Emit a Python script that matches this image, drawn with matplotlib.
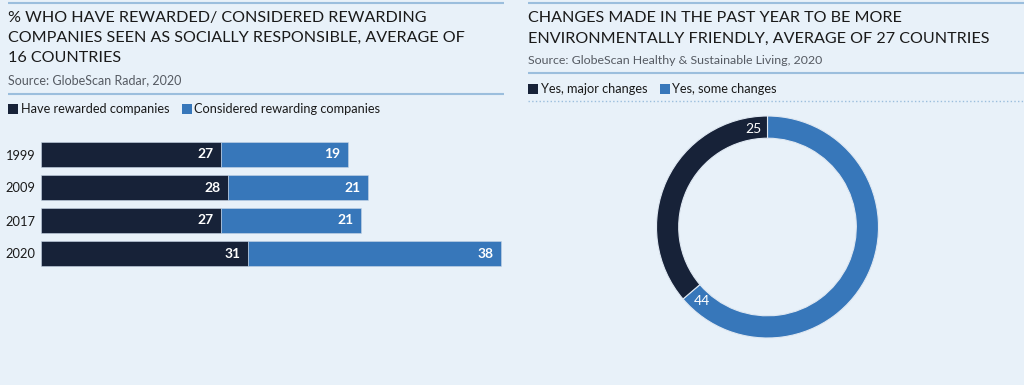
import matplotlib.pyplot as plt
import numpy as np

# data
years = ["1999", "2009", "2017", "2020"]
rewarded = [27, 28, 27, 31]
considered = [19, 21, 21, 38]
bar_series = ["Have rewarded companies", "Considered rewarding companies"]

donut_labels = ["Yes, some changes", "Yes, major changes"]
donut_values = [44, 25]

BG = "#e8f1f9"
DARK = "#172238"
BLUE = "#3777ba"
RULE = "#9bbedd"
GREY = "#555a62"
FONT = "Lato"

W, H = 1024, 385
fig = plt.figure(figsize=(W / 100, H / 100), dpi=100, facecolor=BG)
plt.rcParams["font.family"] = [FONT, "DejaVu Sans"]

# overlay in pixel coords for text and rules
ov = fig.add_axes([0, 0, 1, 1])
ov.set_xlim(0, W)
ov.set_ylim(H, 0)
ov.axis("off")


def rule(x0, x1, y, style="-"):
    ov.plot([x0, x1], [y, y], color=RULE, lw=1.5 if style == "-" else 1.0,
            ls=style, solid_capstyle="butt")


rule(8, 504, 3)
rule(528, 1024, 3)
rule(8, 504, 94)
rule(528, 1024, 73)
rule(528, 1024, 101, ":")

title_kw = dict(fontsize=11.6, color="#1a1a1a", va="center", ha="left")
for i, line in enumerate(["% WHO HAVE REWARDED/ CONSIDERED REWARDING",
                          "COMPANIES SEEN AS SOCIALLY RESPONSIBLE, AVERAGE OF",
                          "16 COUNTRIES"]):
    ov.text(8, 18 + i * 20, line, **title_kw)
ov.text(8, 80, "Source: GlobeScan Radar, 2020", fontsize=9, color=GREY,
        va="center")

for i, line in enumerate(["CHANGES MADE IN THE PAST YEAR TO BE MORE",
                          "ENVIRONMENTALLY FRIENDLY, AVERAGE OF 27 COUNTRIES"]):
    ov.text(528, 18 + i * 21, line, **title_kw)
ov.text(528, 60, "Source: GlobeScan Healthy & Sustainable Living, 2020",
        fontsize=8.9, color=GREY, va="center")


def legend(x, y, items):
    for label, color in items:
        ov.add_patch(plt.Rectangle((x, y - 5), 10, 10, color=color, lw=0))
        t = ov.text(x + 13, y, label, fontsize=9.2, color="#1a1a1a",
                    va="center")
        fig.canvas.draw()
        bb = t.get_window_extent()
        x = bb.x1 + 12


legend(8, 109, zip(bar_series, [DARK, BLUE]))
legend(528, 89, zip([donut_labels[1], donut_labels[0]], [DARK, BLUE]))

# bar chart
px_per_unit = 6.67
xmax = 70
ax = fig.add_axes([41 / W, 1 - 270 / H, xmax * px_per_unit / W, 132 / H])
ax.set_facecolor("none")
y = np.arange(len(years))
ax.barh(y, rewarded, height=0.73, color=DARK, edgecolor="#c8d6e6", lw=0.4)
ax.barh(y, considered, left=rewarded, height=0.73, color=BLUE,
        edgecolor="#c8d6e6", lw=0.4)
for yi, a, b in zip(y, rewarded, considered):
    ax.text(a - 1.1, yi, str(a), ha="right", va="center", color="white",
            fontsize=10, fontweight="bold")
    ax.text(a + b - 1.1, yi, str(b), ha="right", va="center", color="white",
            fontsize=10, fontweight="bold")
ax.set_xlim(0, xmax)
ax.set_ylim(len(years) - 0.5, -0.5)
ax.set_yticks(y, years)
ax.set_xticks([])
ax.tick_params(axis="y", length=0, pad=4, labelsize=9.3, labelcolor="#1a1a1a")
for s in ax.spines.values():
    s.set_visible(False)

# donut
size = 240
cx, cy = 767.5, 227
dax = fig.add_axes([(cx - size / 2) / W, 1 - (cy + size / 2) / H,
                    size / W, size / H])
dax.pie(donut_values, colors=[BLUE, DARK], startangle=90, counterclock=False,
        radius=1, wedgeprops=dict(width=0.2, edgecolor="#dfe8f2", lw=0.8))
r = 111 / (size / 2)
dax.set_xlim(-1 / r, 1 / r)
dax.set_ylim(-1 / r, 1 / r)
total = sum(donut_values)
end = 90.0
for v in donut_values:
    end -= v / total * 360
    ang = np.radians(end + 8)
    dax.text(0.89 * np.cos(ang), 0.89 * np.sin(ang), str(v), color="white",
             ha="center", va="center", fontsize=10)

fig.savefig("out.png", dpi=100, facecolor=BG)
